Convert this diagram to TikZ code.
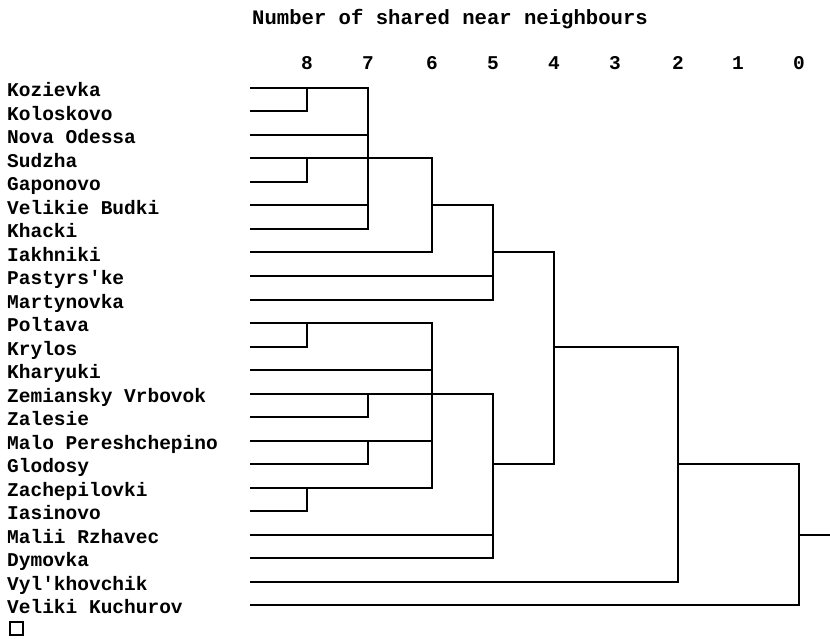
\documentclass[tikz,border=0pt]{standalone}
\usepackage{fontspec}
\newfontfamily\dendfont{Liberation Mono}
\begin{document}
\begin{tikzpicture}[x=1pt,y=-1pt,
  lbl/.style={anchor=base west,inner sep=0pt,font=\dendfont\bfseries\fontsize{19.5}{20}\selectfont},
  ttl/.style={anchor=base west,inner sep=0pt,font=\dendfont\bfseries\fontsize{20.6}{21}\selectfont},
  digit/.style={anchor=base,inner sep=0pt,font=\dendfont\bfseries\fontsize{19.5}{20}\selectfont},
  link/.style={draw=black,line width=2pt},
  cursorbox/.style={draw=black,line width=1.3pt,minimum size=13pt,inner sep=0pt}]
\useasboundingbox (0,0) rectangle (830,639);
% title and axis
\node[ttl] (title) at (252,25) {Number of shared near neighbours};
\foreach \v/\xx in {8/307,7/368,6/432,5/493,4/554,3/615,2/678,1/738,0/799}
  \node[digit] (d\v) at (\xx,70) {\v};
% leaves
\foreach \i/\name in {0/Kozievka,1/Koloskovo,2/Nova Odessa,3/Sudzha,4/Gaponovo,
  5/Velikie Budki,6/Khacki,7/Iakhniki,8/Pastyrs'ke,9/Martynovka,10/Poltava,
  11/Krylos,12/Kharyuki,13/Zemiansky Vrbovok,14/Zalesie,15/Malo Pereshchepino,
  16/Glodosy,17/Zachepilovki,18/Iasinovo,19/Malii Rzhavec,20/Dymovka,
  21/Vyl'khovchik,22/Veliki Kuchurov}{
  \pgfmathsetmacro{\yy}{88+23.5*\i}
  \node[lbl] (n\i) at (7,\yy+8.7) {\name};
  \coordinate (s\i) at (250,\yy);
}
\node[cursorbox] (cur) at (16.5,628.5) {};
% cluster joints
\coordinate (c1) at (307,88);      % Kozievka/Koloskovo
\coordinate (c2) at (307,158.5);   % Sudzha/Gaponovo
\coordinate (c3) at (368,158.5);   % level 7 top
\coordinate (c4) at (432,205.5);   % level 6 top
\coordinate (c5) at (493,252.5);   % level 5 top
\coordinate (c6) at (307,323);     % Poltava/Krylos
\coordinate (c7) at (368,393.5);   % Zemiansky/Zalesie
\coordinate (c8) at (368,440.5);   % Malo/Glodosy
\coordinate (c9) at (307,487.5);   % Zachepilovki/Iasinovo
\coordinate (c10) at (432,393.5);  % level 6 lower
\coordinate (c11) at (493,464);    % level 5 lower
\coordinate (c12) at (554,346.5);  % level 4
\coordinate (c13) at (678,464);    % level 2
\coordinate (c14) at (799,534.5);  % level 0
\coordinate (root) at (830,534.5);
% links
\draw[link] (s0) -| (c1);  \draw[link] (s1) -| (c1);
\draw[link] (s3) -| (c2);  \draw[link] (s4) -| (c2);
\draw[link] (c1) -| (c3);  \draw[link] (s2) -| (c3);  \draw[link] (c2) -| (c3);
\draw[link] (s5) -| (c3);  \draw[link] (s6) -| (c3);
\draw[link] (c3) -| (c4);  \draw[link] (s7) -| (c4);
\draw[link] (c4) -| (c5);  \draw[link] (s8) -| (c5);  \draw[link] (s9) -| (c5);
\draw[link] (s10) -| (c6); \draw[link] (s11) -| (c6);
\draw[link] (s13) -| (c7); \draw[link] (s14) -| (c7);
\draw[link] (s15) -| (c8); \draw[link] (s16) -| (c8);
\draw[link] (s17) -| (c9); \draw[link] (s18) -| (c9);
\draw[link] (c6) -| (c10); \draw[link] (s12) -| (c10); \draw[link] (c7) -| (c10);
\draw[link] (c8) -| (c10); \draw[link] (c9) -| (c10);
\draw[link] (c10) -| (c11); \draw[link] (s19) -| (c11); \draw[link] (s20) -| (c11);
\draw[link] (c5) -| (c12); \draw[link] (c11) -| (c12);
\draw[link] (c12) -| (c13); \draw[link] (s21) -| (c13);
\draw[link] (c13) -| (c14); \draw[link] (s22) -| (c14);
\draw[link] (c14) -- (root);
\end{tikzpicture}
\end{document}
